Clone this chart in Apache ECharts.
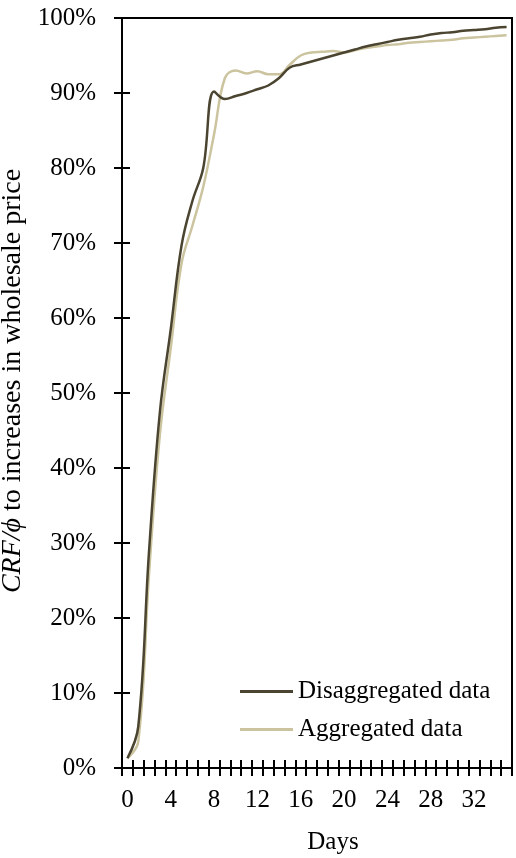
<!DOCTYPE html>
<html>
<head>
<meta charset="utf-8">
<script src="https://cdn.jsdelivr.net/npm/echarts@6/dist/echarts.min.js"></script>
<style>
  html, body { margin: 0; padding: 0; background: #fff; }
  #chart { width: 516px; height: 858px; }
</style>
</head>
<body>
<div id="chart"></div>
<script>
// Days since the price increase
const days = Array.from({ length: 36 }, (_, i) => String(i));

// Cumulative response (%) per day
const disaggregated = [
  1.3, 5.5, 29.0, 47.5, 58.5, 69.7, 75.6, 80.0, 90.2, 89.2,
  89.6, 90.0, 90.5, 91.0, 92.0, 93.4, 93.8, 94.2, 94.6, 95.0,
  95.4, 95.8, 96.2, 96.5, 96.8, 97.1, 97.3, 97.5, 97.8, 98.0,
  98.1, 98.3, 98.4, 98.5, 98.7, 98.8
];
const aggregated = [
  1.3, 3.5, 26.0, 44.5, 56.0, 67.3, 72.3, 77.5, 84.5, 92.0,
  93.0, 92.6, 92.9, 92.5, 92.5, 93.8, 95.0, 95.4, 95.5, 95.6,
  95.4, 95.7, 96.0, 96.2, 96.4, 96.5, 96.7, 96.8, 96.9, 97.0,
  97.1, 97.3, 97.4, 97.5, 97.6, 97.7
];

const seriesNames = ['Disaggregated data', 'Aggregated data'];
const colors = ['#4a4430', '#cbc49f'];

const FONT = '"Liberation Serif", "Times New Roman", serif';
const chart = echarts.init(document.getElementById('chart'), null, { renderer: 'canvas' });

chart.setOption({
  animation: false,
  textStyle: { fontFamily: FONT, color: '#000' },
  grid: {
    show: true, borderColor: '#000', borderWidth: 2,
    containLabel: false, outerBoundsMode: 'none',
    left: 122, right: 4, top: 18, bottom: 90
  },
  legend: {
    orient: 'vertical',
    left: 235,
    top: 674,
    itemWidth: 53,
    itemHeight: 3,
    itemGap: 13,
    icon: 'rect',
    data: seriesNames,
    textStyle: { fontFamily: FONT, fontSize: 25, color: '#000', lineHeight: 25 }
  },
  xAxis: [
    {
      type: 'category',
      data: days,
      boundaryGap: true,
      name: 'Days',
      nameLocation: 'middle',
      nameGap: 62,
      nameTextStyle: { fontFamily: FONT, fontSize: 25, color: '#000', padding: [0, 0, 0, 32] },
      axisLine: { lineStyle: { color: '#000', width: 2 } },
      axisTick: { show: true, interval: 0, inside: false, length: 8, lineStyle: { color: '#000', width: 2 } },
      axisLabel: { interval: 3, margin: 20, fontFamily: FONT, fontSize: 25, color: '#000' },
      splitLine: { show: false }
    },
    {
      type: 'category',
      data: days,
      boundaryGap: true,
      position: 'bottom',
      axisLine: { show: false },
      axisTick: { show: true, interval: 0, inside: true, length: 8, lineStyle: { color: '#000', width: 2 } },
      axisLabel: { show: false },
      splitLine: { show: false }
    }
  ],
  yAxis: [
    {
      type: 'value',
      min: 0,
      max: 100,
      interval: 10,
      name: '{i|CRF/\u03D5} to increases in wholesale price',
      nameLocation: 'middle',
      nameGap: 90,
      nameRotate: 90,
      nameTextStyle: {
        fontFamily: FONT, fontSize: 28, color: '#000', padding: [0, 0, 0, 24],
        rich: { i: { fontFamily: FONT, fontSize: 28, fontStyle: 'italic', color: '#000' } }
      },
      axisLine: { show: true, lineStyle: { color: '#000', width: 2 } },
      axisTick: { show: true, inside: false, length: 8, lineStyle: { color: '#000', width: 2 } },
      axisLabel: { formatter: '{value}%', margin: 26, fontFamily: FONT, fontSize: 25, color: '#000' },
      splitLine: { show: false }
    },
    {
      type: 'value',
      min: 0,
      max: 100,
      interval: 10,
      position: 'left',
      axisLine: { show: false },
      axisTick: { show: true, inside: true, length: 8, lineStyle: { color: '#000', width: 2 } },
      axisLabel: { show: false },
      splitLine: { show: false }
    }
  ],
  series: [
    {
      name: seriesNames[0],
      type: 'line',
      xAxisIndex: 0,
      yAxisIndex: 0,
      data: disaggregated,
      smooth: 0.4,
      symbol: 'none',
      z: 3,
      lineStyle: { color: colors[0], width: 2.5 },
      itemStyle: { color: colors[0] }
    },
    {
      name: seriesNames[1],
      type: 'line',
      xAxisIndex: 0,
      yAxisIndex: 0,
      data: aggregated,
      smooth: 0.4,
      symbol: 'none',
      z: 2,
      lineStyle: { color: colors[1], width: 2.5 },
      itemStyle: { color: colors[1] }
    }
  ]
});
</script>
</body>
</html>
